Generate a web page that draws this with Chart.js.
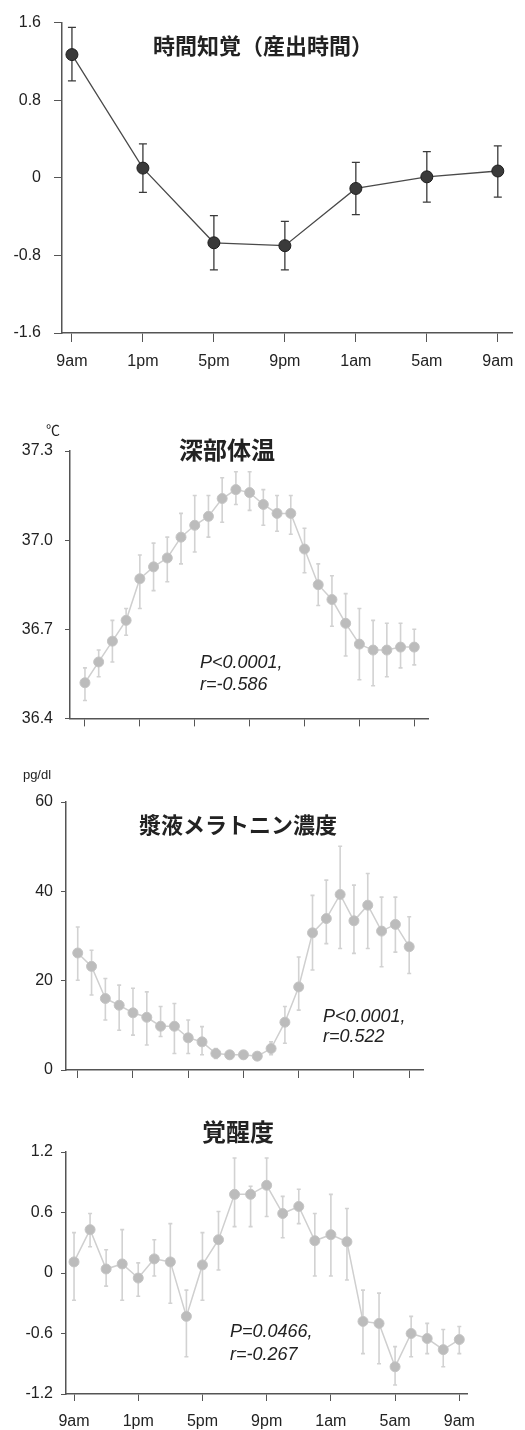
<!DOCTYPE html>
<html>
<head>
<meta charset="utf-8">
<script src="https://cdn.jsdelivr.net/npm/chart.js@4"></script>
<style>
  body { margin: 0; background: #fff; }
  #page { position: relative; width: 525px; height: 1430px; }
  canvas { position: absolute; left: 0; }
</style>
</head>
<body>
<div id="page">
  <canvas id="c1" width="525" height="380" style="top:0px"></canvas>
  <canvas id="c2" width="525" height="340" style="top:400px"></canvas>
  <canvas id="c3" width="525" height="350" style="top:740px"></canvas>
  <canvas id="c4" width="525" height="340" style="top:1090px"></canvas>
</div>
<script>
// x positions: hours after 9am
const hours4 = [0, 4, 8, 12, 16, 20, 24];
const hours1 = [0, 1, 2, 3, 4, 5, 6, 7, 8, 9, 10, 11, 12, 13, 14, 15, 16, 17, 18, 19, 20, 21, 22, 23, 24];
const clockLabels = ['9am', '1pm', '5pm', '9pm', '1am', '5am', '9am'];

// 時間知覚（産出時間）
const perceptionMean = [1.27, 0.10, -0.67, -0.70, -0.11, 0.01, 0.07];
const perceptionHi   = [1.55, 0.35, -0.39, -0.45, 0.16, 0.27, 0.33];
const perceptionLo   = [1.00, -0.15, -0.95, -0.95, -0.38, -0.25, -0.20];
const perceptionTicks = [-1.6, -0.8, 0, 0.8, 1.6];
const perceptionTickLabels = ['-1.6', '-0.8', '0', '0.8', '1.6'];

// 深部体温
const tempMean = [36.52, 36.59, 36.66, 36.73, 36.87, 36.91, 36.94, 37.01, 37.05, 37.08, 37.14, 37.17, 37.16,
                  37.12, 37.09, 37.09, 36.97, 36.85, 36.80, 36.72, 36.65, 36.63, 36.63, 36.64, 36.64];
const tempHi   = [36.57, 36.63, 36.73, 36.77, 36.95, 36.99, 37.01, 37.09, 37.15, 37.15, 37.21, 37.23, 37.23,
                  37.17, 37.15, 37.15, 37.04, 36.92, 36.88, 36.82, 36.77, 36.73, 36.72, 36.72, 36.70];
const tempLo   = [36.46, 36.54, 36.59, 36.68, 36.77, 36.83, 36.86, 36.92, 36.96, 37.01, 37.06, 37.12, 37.10,
                  37.05, 37.03, 37.02, 36.89, 36.78, 36.71, 36.61, 36.53, 36.51, 36.54, 36.57, 36.58];
const tempTicks = [36.4, 36.7, 37.0, 37.3];
const tempTickLabels = ['36.4', '36.7', '37.0', '37.3'];

// 漿液メラトニン濃度
const melMean = [26.2, 23.2, 16.0, 14.5, 12.8, 11.8, 9.8, 9.8, 7.2, 6.3, 3.7, 3.4, 3.4,
                 3.1, 4.8, 10.7, 18.6, 30.7, 33.9, 39.3, 33.4, 36.9, 31.1, 32.6, 27.6];
const melHi   = [32.0, 26.8, 20.5, 19.0, 18.3, 17.5, 14.2, 14.9, 11.2, 9.7, 4.8, 4.3, 4.3,
                 4.0, 6.3, 14.2, 25.3, 39.1, 42.5, 50.1, 41.4, 44.0, 38.7, 38.7, 34.3];
const melLo   = [20.1, 16.8, 11.2, 8.9, 7.8, 5.6, 7.5, 3.7, 3.7, 3.4, 2.6, 2.5, 2.5,
                 2.2, 3.4, 6.0, 13.4, 22.4, 28.3, 27.2, 26.1, 27.2, 23.1, 26.4, 21.6];
const melTicks = [0, 20, 40, 60];
const melTickLabels = ['0', '20', '40', '60'];

// 覚醒度
const alertMean = [0.11, 0.43, 0.04, 0.09, -0.05, 0.14, 0.11, -0.43, 0.08, 0.33, 0.78, 0.78, 0.87,
                   0.59, 0.66, 0.32, 0.38, 0.31, -0.48, -0.50, -0.93, -0.60, -0.65, -0.76, -0.66];
const alertHi   = [0.40, 0.59, 0.23, 0.43, 0.10, 0.33, 0.49, -0.17, 0.40, 0.61, 1.14, 0.86, 1.14,
                   0.76, 0.83, 0.59, 0.78, 0.64, -0.17, -0.20, -0.73, -0.43, -0.50, -0.56, -0.53];
const alertLo   = [-0.27, 0.26, -0.13, -0.27, -0.23, -0.03, -0.30, -0.83, -0.27, 0.03, 0.46, 0.46, 0.56,
                   0.35, 0.49, -0.03, -0.03, -0.07, -0.80, -0.90, -1.11, -0.83, -0.80, -0.93, -0.80];
const alertTicks = [-1.2, -0.6, 0, 0.6, 1.2];
const alertTickLabels = ['-1.2', '-0.6', '0', '0.6', '1.2'];

const TICK_FONT = { family: "'Liberation Sans', Arial, sans-serif", size: 16 };
const TITLE_FAMILY = "'Noto Sans CJK JP', sans-serif";
const NOTE_FAMILY = "'Liberation Sans', Arial, sans-serif";

// error bars + free text (titles, units, stats) drawn on the canvas
const extrasPlugin = {
  id: 'extras',
  beforeDatasetsDraw(chart, args, opts) {
    const ctx = chart.ctx;
    const xs = chart.scales.x, ys = chart.scales.y;
    const data = chart.data.datasets[0].data;
    ctx.save();
    ctx.strokeStyle = opts.errColor;
    ctx.lineWidth = opts.errWidth;
    data.forEach((p, i) => {
      const x = xs.getPixelForValue(p.x);
      const yh = ys.getPixelForValue(opts.hi[i]);
      const yl = ys.getPixelForValue(opts.lo[i]);
      ctx.beginPath();
      ctx.moveTo(x, yh); ctx.lineTo(x, yl);
      ctx.moveTo(x - opts.cap, yh); ctx.lineTo(x + opts.cap, yh);
      ctx.moveTo(x - opts.cap, yl); ctx.lineTo(x + opts.cap, yl);
      ctx.stroke();
    });
    ctx.restore();
  },
  afterDraw(chart, args, opts) {
    const ctx = chart.ctx;
    ctx.save();
    ctx.fillStyle = '#222';
    ctx.textBaseline = 'middle';
    (opts.texts || []).forEach(t => {
      ctx.font = t.font;
      ctx.textAlign = t.align || 'left';
      ctx.fillText(t.text, t.x, t.y);
    });
    ctx.restore();
  }
};

function makeChart(id, c) {
  const canvas = document.getElementById(id);
  const points = c.xs.map((x, i) => ({ x: x, y: c.mean[i] }));
  return new Chart(canvas.getContext('2d'), {
    type: 'line',
    data: {
      datasets: [{
        data: points,
        borderColor: c.lineColor,
        borderWidth: c.lineWidth,
        pointRadius: c.pointRadius,
        pointBackgroundColor: c.pointColor,
        pointBorderColor: c.pointBorder,
        pointBorderWidth: 1,
        tension: 0
      }]
    },
    options: {
      responsive: false,
      animation: false,
      events: [],
      layout: { padding: { top: c.area.top, right: 525 - c.area.right, left: 0, bottom: 0 } },
      plugins: {
        legend: { display: false },
        tooltip: { enabled: false },
        extras: { hi: c.hi, lo: c.lo, errColor: c.errColor, errWidth: c.errWidth, cap: c.cap, texts: c.texts }
      },
      scales: {
        x: {
          type: 'linear',
          min: c.xMin, max: c.xMax,
          afterBuildTicks: s => { s.ticks = hours4.map(v => ({ value: v })); },
          afterFit: s => { s.height = canvas.height - c.area.bottom; },
          ticks: {
            autoSkip: false, maxRotation: 0, color: '#222', font: TICK_FONT, padding: c.xPad,
            callback: (v, i) => c.showX ? clockLabels[i] : ''
          },
          grid: { drawOnChartArea: false, drawTicks: true, tickLength: c.xTick, tickColor: '#555', tickWidth: 1 },
          border: { display: true, color: '#555', width: 1.5 }
        },
        y: {
          min: c.yTicks[0], max: c.yTicks[c.yTicks.length - 1],
          afterBuildTicks: s => { s.ticks = c.yTicks.map(v => ({ value: v })); },
          afterFit: s => { s.width = c.area.left; },
          ticks: {
            color: '#222', font: TICK_FONT, padding: c.yPad,
            callback: (v, i) => c.yLabels[i]
          },
          grid: { drawOnChartArea: false, drawTicks: true, tickLength: c.yTick, tickColor: '#555', tickWidth: 1 },
          border: { display: true, color: '#555', width: 1.5 }
        }
      }
    },
    plugins: [extrasPlugin]
  });
}

const dark = { lineColor: '#4a4a4a', lineWidth: 1.3, pointRadius: 6, pointColor: '#3a3a3a', pointBorder: '#1e1e1e',
               errColor: '#3a3a3a', errWidth: 1.3, cap: 4 };
const light = { lineColor: '#cfcfcf', lineWidth: 1.5, pointRadius: 5, pointColor: '#bcbcbc', pointBorder: '#c4c4c4',
                errColor: '#d2d2d2', errWidth: 1.6, cap: 2 };

makeChart('c1', Object.assign({}, dark, {
  xs: hours4, mean: perceptionMean, hi: perceptionHi, lo: perceptionLo,
  yTicks: perceptionTicks, yLabels: perceptionTickLabels,
  area: { left: 62, right: 512, top: 22, bottom: 333 },
  xMin: -0.56, xMax: 24.8, showX: true, xTick: 9, xPad: 10, yTick: 8, yPad: 13,
  texts: [{ text: '時間知覚（産出時間）', x: 263, y: 46, align: 'center', font: 'bold 22px ' + TITLE_FAMILY }]
}));

makeChart('c2', Object.assign({}, light, {
  xs: hours1, mean: tempMean, hi: tempHi, lo: tempLo,
  yTicks: tempTicks, yLabels: tempTickLabels,
  area: { left: 70, right: 428, top: 51, bottom: 320 },
  xMin: -1.09, xMax: 25.0, showX: false, xTick: 8, xPad: 4, yTick: 5, yPad: 12,
  texts: [
    { text: '深部体温', x: 227, y: 50, align: 'center', font: 'bold 24px ' + TITLE_FAMILY },
    { text: '℃', x: 53, y: 30, align: 'center', font: '14px ' + TITLE_FAMILY },
    { text: 'P<0.0001,', x: 200, y: 263, font: 'italic 18px ' + NOTE_FAMILY },
    { text: 'r=-0.586', x: 200, y: 285, font: 'italic 18px ' + NOTE_FAMILY }
  ]
}));

makeChart('c3', Object.assign({}, light, {
  xs: hours1, mean: melMean, hi: melHi, lo: melLo,
  yTicks: melTicks, yLabels: melTickLabels,
  area: { left: 66, right: 423, top: 62, bottom: 330 },
  xMin: -0.85, xMax: 25.0, showX: false, xTick: 8, xPad: 4, yTick: 5, yPad: 8,
  texts: [
    { text: '漿液メラトニン濃度', x: 238, y: 85, align: 'center', font: 'bold 22px ' + TITLE_FAMILY },
    { text: 'pg/dl', x: 37, y: 35, align: 'center', font: '13px ' + NOTE_FAMILY },
    { text: 'P<0.0001,', x: 323, y: 277, font: 'italic 18px ' + NOTE_FAMILY },
    { text: 'r=0.522', x: 323, y: 297, font: 'italic 18px ' + NOTE_FAMILY }
  ]
}));

makeChart('c4', Object.assign({}, light, {
  xs: hours1, mean: alertMean, hi: alertHi, lo: alertLo,
  yTicks: alertTicks, yLabels: alertTickLabels,
  area: { left: 66, right: 467, top: 62, bottom: 304 },
  xMin: -0.5, xMax: 24.48, showX: true, xTick: 7, xPad: 11, yTick: 5, yPad: 8,
  texts: [
    { text: '覚醒度', x: 238, y: 42, align: 'center', font: 'bold 24px ' + TITLE_FAMILY },
    { text: 'P=0.0466,', x: 230, y: 242, font: 'italic 18px ' + NOTE_FAMILY },
    { text: 'r=-0.267', x: 230, y: 265, font: 'italic 18px ' + NOTE_FAMILY }
  ]
}));
</script>
</body>
</html>
